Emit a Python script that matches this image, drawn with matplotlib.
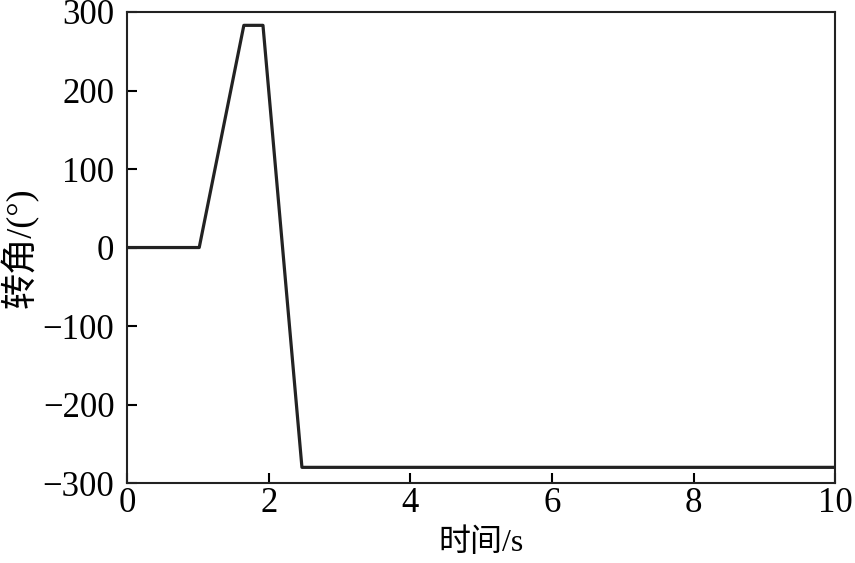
import matplotlib
matplotlib.use('Agg')
import matplotlib.pyplot as plt

# steering angle over time
t = [0, 1.02, 1.65, 1.92, 2.47, 10]
angle = [0, 0, 283, 283, -280, -280]

xticks = [0, 2, 4, 6, 8, 10]
yticks = [-300, -200, -100, 0, 100, 200, 300]

plt.rcParams['font.family'] = ['Liberation Serif', 'Noto Sans CJK SC']
plt.rcParams['axes.unicode_minus'] = True

fig = plt.figure(figsize=(8.55, 5.63), dpi=100)
ax = fig.add_axes([0.1485, 0.142, 0.8285, 0.8367])
ax.plot(t, angle, color='#222222', lw=2.3)

ax.set_xlim(0, 10)
ax.set_ylim(-300, 300)
ax.set_xticks(xticks)
ax.set_yticks(yticks)
ax.tick_params(direction='in', length=7, width=1.5, labelsize=25)
ax.tick_params(axis='y', pad=9)
ax.tick_params(axis='x', pad=3)
for s in ax.spines.values():
    s.set_linewidth(1.5)
    s.set_color('#222222')

ax.set_xlabel('时间/s', fontsize=23, labelpad=6)
ax.set_ylabel('转角/(°)', fontsize=26)
ax.yaxis.set_label_coords(-0.124, 0.5)

fig.savefig('out.png', dpi=100)
